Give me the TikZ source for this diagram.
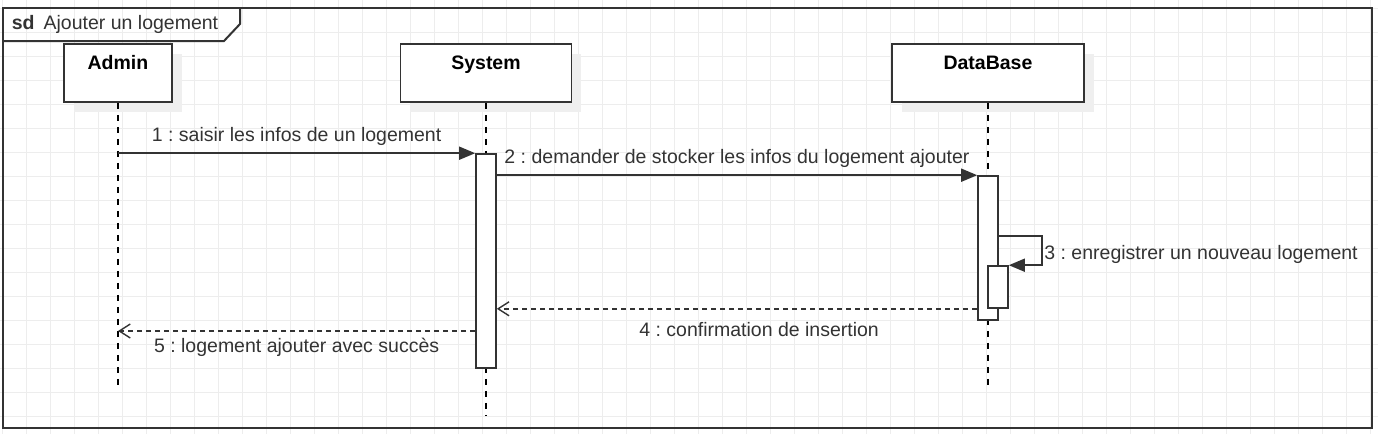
\documentclass[tikz,border=0pt]{standalone}
\usepackage{fontspec}
\setmainfont{Liberation Sans}
\usetikzlibrary{arrows.meta,shadows}
\definecolor{ink}{HTML}{333333}
\definecolor{gridgray}{HTML}{EDEDED}
\definecolor{shade}{HTML}{EFEFEF}
\frenchspacing
\begin{document}
\begin{tikzpicture}[x=0.5pt, y=-0.5pt, font=\fontsize{9.75}{11.7}\selectfont, text=ink,
  gridline/.style={draw=gridgray, line width=0.5pt},
  frame/.style={draw=ink, line width=1pt},
  head/.style={draw=ink, line width=0.8pt, fill=white, inner sep=0pt, text=black,
    text height=12.5pt, text depth=16.5pt, font=\fontsize{9.75}{11.7}\selectfont\bfseries,
    drop shadow={shadow xshift=4.75pt, shadow yshift=-4.75pt, fill=shade, opacity=1}},
  lifeline/.style={draw=black, line width=0.6pt, dash pattern=on 3pt off 3pt},
  bar/.style={draw=ink, line width=0.8pt, fill=white, inner sep=0pt, minimum width=10pt},
  call/.style={draw=ink, line width=0.8pt, -{Triangle[length=8pt,width=6.5pt]}},
  reply/.style={draw=ink, line width=0.7pt, dash pattern=on 2.5pt off 2pt, -{Straight Barb[length=5.5pt,width=7pt]}}]
\useasboundingbox (0,0) rectangle (1378,434);
\foreach \i in {0,...,57} \draw[gridline] (2.7+24*\i,0) -- ++(0,434);
\foreach \j in {0,...,18} \draw[gridline] (0,8.3+24*\j) -- ++(1378,0);

\draw[frame] (3,8) rectangle (1372,428);
\draw[frame] (3,41) -- (224,41) -- (240,24) -- (240,8);
\node[anchor=base west, inner sep=0pt] (sdTitle) at (11.5,29.3) {\textbf{sd}\hspace{4.5pt}Ajouter un logement};

\node[head, minimum width=54pt] (admin) at (118,73) {Admin};
\node[head, minimum width=85.5pt] (system) at (486,73) {System};
\node[head, minimum width=96pt] (dataBase) at (988,73) {DataBase};
\coordinate (adminEnd) at (118,388);
\coordinate (systemEnd) at (486,415);
\coordinate (dataBaseEnd) at (988,388);
\draw[lifeline] (admin) -- (adminEnd);
\draw[lifeline] (system) -- (systemEnd);
\draw[lifeline] (dataBase) -- (dataBaseEnd);

\node[bar, minimum height=107pt] (sysBar) at (486,261) {};
\node[bar, minimum height=72pt] (dbBar) at (988,248) {};
\node[bar, minimum height=21pt] (selfBar) at (998,287) {};

\draw[call] (admin |- sysBar.north) -- node[above] (m1) {1 : saisir les infos de un logement} (sysBar.north west);
\draw[call] (sysBar.east |- dbBar.north) -- node[above] (m2) {2 : demander de stocker les infos du logement ajouter} (dbBar.north west);
\draw[call] (dbBar.east |- 0,236) -- ++(43,0) |- (selfBar.north east);
\node[anchor=west, inner sep=1pt] (m3) at (1042,254) {3 : enregistrer un nouveau logement};
\draw[reply] (dbBar.west |- selfBar.south) -- node[below, pos=0.454, yshift=-3pt] (m4) {4 : confirmation de insertion} (sysBar.east |- selfBar.south);
\draw[reply] (sysBar.west |- 0,331) -- node[below] (m5) {5 : logement ajouter avec succès} (admin |- 0,331);

\end{tikzpicture}
\end{document}
